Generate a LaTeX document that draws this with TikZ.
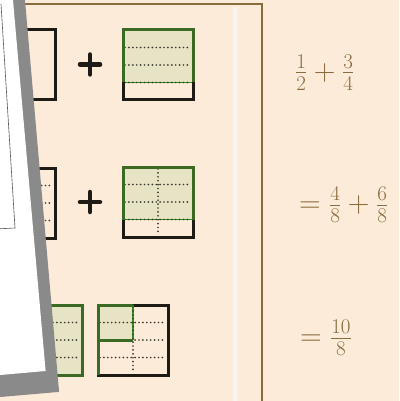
\RequirePackage{fix-cm}
\documentclass[tikz,border=0pt]{standalone}
\usepackage{tikz}
\definecolor{paper}{HTML}{FCEBD8}
\definecolor{frame}{HTML}{8A6C3C}
\definecolor{chalk}{HTML}{F6F5F2}
\definecolor{ink}{HTML}{1E1A16}
\definecolor{leaf}{HTML}{3B6A22}
\definecolor{cellfill}{HTML}{E7E3C5}
\definecolor{dotc}{HTML}{3E3A2E}
\definecolor{sheetgray}{HTML}{8A8A8A}
\definecolor{sumtext}{HTML}{8A6C3E}

\begin{document}
\begin{tikzpicture}[x=1pt,y=-1pt,
outl/.style={draw=ink,line width=3pt},
grn/.style={draw=leaf,line width=3pt},
dots/.style={draw=dotc,line width=1.9pt,line cap=round,dash pattern=on 0pt off 3.9pt},
plusbar/.style={draw=ink,line width=4.5pt,line cap=round},
sum/.style={anchor=west,inner sep=0pt,text=sumtext,font=\fontsize{30}{36}\selectfont}]
\clip (0,0) rectangle (399,401);
\fill[paper] (0,0) rectangle (399,401);
% frame and chalk strip
\draw[frame,line width=1.5pt] (0,4) -- (262,4) -- (262,401);
\fill[chalk] (232.5,7) rectangle (236.5,401);

% row 1
\fill[cellfill] (-15,30) rectangle (20,100);
\draw[outl] (-15,30) rectangle (55,100);
\draw[grn] (-15,30) rectangle (20,100);
\draw[plusbar] (80,64.5) -- (100,64.5) (90,54.5) -- (90,74.5);
\fill[cellfill] (123,30) rectangle (193,82.5);
\draw[leaf!70!green,line width=1.4pt] (123,82.5) -- (193,82.5);
\foreach \y in {47.5,65,82.5} \draw[dots] (125,\y) -- (191,\y);
\draw[outl] (123,30) rectangle (193,100);
\draw[grn] (123,82.5) -- (123,30) -- (193,30) -- (193,82.5);

% row 2
\fill[cellfill] (-15,168) rectangle (20,238);
\foreach \y in {185.5,203,220.5} \draw[dots] (-13,\y) -- (53,\y);
\draw[outl] (-15,168) rectangle (55,238);
\draw[grn] (-15,168) rectangle (20,238);
\draw[plusbar] (80,202) -- (100,202) (90,192) -- (90,212);
\fill[cellfill] (123,167) rectangle (193,219.5);
\draw[leaf!70!green,line width=1.4pt] (123,219.5) -- (193,219.5);
\foreach \y in {184.5,202,219.5} \draw[dots] (125,\y) -- (191,\y);
\draw[dots] (158,169) -- (158,235);
\draw[outl] (123,167) rectangle (193,237);
\draw[grn] (123,219.5) -- (123,167) -- (193,167) -- (193,219.5);

% row 3
\fill[cellfill] (12,305) rectangle (82,375);
\foreach \y in {322.5,340,357.5} \draw[dots] (14,\y) -- (80,\y);
\draw[dots] (47,307) -- (47,373);
\draw[grn] (12,305) rectangle (82,375);
\fill[cellfill] (98,305) rectangle (133,340);
\foreach \y in {322.5,340,357.5} \draw[dots] (100,\y) -- (166,\y);
\draw[dots] (133,307) -- (133,373);
\draw[outl] (98,305) rectangle (168,375);
\draw[leaf!70!green,line width=1.4pt] (133,305) -- (133,340);
\draw[dots] (133,307) -- (133,340);
\draw[grn] (98,375) -- (98,305) -- (133,305) (98,340) -- (133,340);

% sums
\node[sum] (sumA) at (295,72.5) {$\frac{1}{2}+\frac{3}{4}$};
\node[sum] (sumB) at (299,205) {$=\frac{4}{8}+\frac{6}{8}$};
\node[sum] (sumC) at (300,338) {$=\frac{10}{8}$};

% tilted sheet
\fill[sheetgray] (-10,-10) -- (24.1,-10) -- (59.1,391.9) -- (-10,397.9) -- cycle;
\fill[white] (-10,-10) -- (12.1,-10) -- (45.6,371) -- (-10,375.9) -- cycle;
\draw[gray!70!black,line width=0.6pt] (1,4) -- (15,228) -- (-5,229);
\end{tikzpicture}
\end{document}
